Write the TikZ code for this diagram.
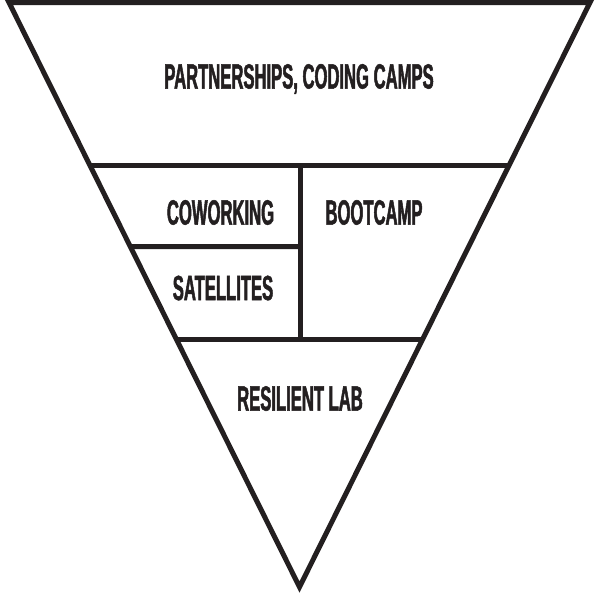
\documentclass[tikz,border=0pt]{standalone}
\usepackage{fontspec}
\setmainfont{Liberation Sans}
\newfontfamily\labelfont[FakeStretch=0.475,FakeBold=1.4]{Liberation Sans Bold}
\definecolor{ink}{RGB}{35,31,32}
\begin{document}
\begin{tikzpicture}[x=1pt,y=-1pt,
  frame/.style={draw=ink,line width=5pt,line join=miter},
  divider/.style={draw=ink,line width=5pt},
  tierlabel/.style={text=ink,font=\labelfont\fontsize{35}{35}\selectfont,inner sep=0pt,anchor=center}]
  \useasboundingbox (0,0) rectangle (600,600);
  % corners of the funnel
  \coordinate (tl) at (9,2.5);
  \coordinate (tr) at (590,2.5);
  \coordinate (bt) at (299.5,587);
  % outer triangle
  \draw[frame] (tl) -- (tr) -- (bt) -- cycle;
  % points where the dividers meet the sides
  \coordinate (l1) at (intersection of tl--bt and 0,165.5--600,165.5);
  \coordinate (r1) at (intersection of tr--bt and 0,165.5--600,165.5);
  \coordinate (l2) at (intersection of tl--bt and 0,246.5--600,246.5);
  \coordinate (l3) at (intersection of tl--bt and 0,339.5--600,339.5);
  \coordinate (r3) at (intersection of tr--bt and 0,339.5--600,339.5);
  \coordinate (v1) at (300,165.5);
  \coordinate (v2) at (300,246.5);
  \coordinate (v3) at (300,339.5);
  % dividers
  \draw[divider] (l1) -- (r1);
  \draw[divider] (l3) -- (r3);
  \draw[divider] (v1) -- (v3);
  \draw[divider] (l2) -- (v2);
  % tier labels
  \node[tierlabel] (top) at (299,79) {PARTNERSHIPS, CODING CAMPS};
  \node[tierlabel] (cow) at (220.5,212.5) {COWORKING};
  \node[tierlabel] (sat) at (223,288) {SATELLITES};
  \node[tierlabel] (boot) at (374,212.5) {BOOTCAMP};
  \node[tierlabel] (lab) at (300,398.5) {RESILIENT LAB};
\end{tikzpicture}
\end{document}
